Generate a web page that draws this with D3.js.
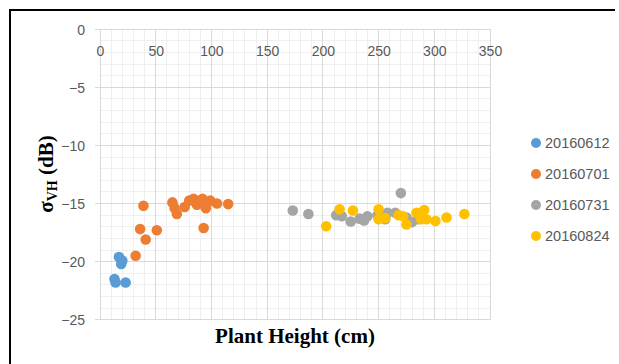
<!DOCTYPE html>
<html><head><meta charset="utf-8">
<script src="https://cdn.jsdelivr.net/npm/d3@7"></script>
<style>body{margin:0;background:#fff}svg{display:block}</style>
</head><body><svg id="c" width="619" height="364"></svg>
<script>
const seriesNames = ["20160612","20160701","20160731","20160824"];
const seriesColors = ["#5B9BD5","#ED7D31","#A5A5A5","#FFC000"];
const s20160612 = [[13,-21.5],[14,-21.8],[17,-19.6],[19,-20.2],[20,-19.9],[23,-21.8]];
const s20160701 = [[32,-19.5],[36,-17.2],[39,-15.2],[41,-18.1],[51,-17.3],[65,-14.9],[67,-15.4],[69,-15.9],[76,-15.3],[80,-14.75],[84,-14.6],[87,-15.1],[89,-14.8],[92,-14.6],[93,-17.1],[95,-15.4],[99,-14.75],[105,-15.0],[115,-15.05]];
const s20160731 = [[173,-15.6],[187,-15.9],[212,-16.0],[217,-16.1],[225,-16.55],[233,-16.3],[237,-16.45],[240,-16.1],[249,-16.0],[256,-16.35],[258,-15.8],[265,-15.8],[270,-14.1],[275,-16.2],[280,-16.6],[285,-16.35]];
const s20160824 = [[203,-16.95],[215,-15.5],[227,-15.6],[250,-15.5],[250,-16.35],[256,-16.25],[268,-16.0],[272,-16.1],[275,-16.8],[284,-15.8],[288,-16.35],[291,-15.55],[293,-16.35],[301,-16.5],[311,-16.2],[327,-15.9]];
const xTicks = [0,50,100,150,200,250,300,350];
const yTicks = [0,-5,-10,-15,-20,-25];
const allSeries = [s20160612,s20160701,s20160731,s20160824];

const svg = d3.select("#c");
const x = d3.scaleLinear().domain([0,350]).range([100,490]);
const y = d3.scaleLinear().domain([-25,0]).range([319.7,29.3]);

// border
svg.append("path").attr("d","M10,364V10H615").attr("fill","none").attr("stroke","#000").attr("stroke-width",2);

// minor grid
const g = svg.append("g");
g.selectAll(".mx").data(d3.range(0,351,10)).enter().append("line")
 .attr("x1",d=>x(d)).attr("x2",d=>x(d)).attr("y1",y(0)).attr("y2",y(-25))
 .attr("stroke","#efefef").attr("stroke-width",1).attr("shape-rendering","crispEdges");
g.selectAll(".my").data(d3.range(-25,1,1)).enter().append("line")
 .attr("x1",x(0)).attr("x2",x(350)).attr("y1",d=>y(d)).attr("y2",d=>y(d))
 .attr("stroke","#efefef").attr("stroke-width",1).attr("shape-rendering","crispEdges");
// major grid
g.selectAll(".Mx").data(xTicks).enter().append("line")
 .attr("x1",d=>x(d)).attr("x2",d=>x(d)).attr("y1",y(0)).attr("y2",y(-25))
 .attr("stroke","#d9d9d9").attr("stroke-width",1).attr("shape-rendering","crispEdges");
g.selectAll(".My").data(yTicks).enter().append("line")
 .attr("x1",x(0)-5).attr("x2",x(350)).attr("y1",d=>y(d)).attr("y2",d=>y(d))
 .attr("stroke","#d9d9d9").attr("stroke-width",1).attr("shape-rendering","crispEdges");

// axes labels
const xAxis = d3.axisTop(x).tickValues(xTicks).tickSize(0).tickPadding(0);
const ax = svg.append("g").attr("transform",`translate(0,${y(0)})`).call(xAxis);
ax.select(".domain").remove();
ax.selectAll("text").attr("y",27).attr("dy",null).attr("fill","#595959")
  .style("font-family","'Liberation Sans',Arial,sans-serif").style("font-size","14px");

const yAxis = d3.axisLeft(y).tickValues(yTicks).tickSize(0).tickPadding(0);
const ay = svg.append("g").attr("transform",`translate(${x(0)},0)`).call(yAxis);
ay.select(".domain").remove();
ay.selectAll("text").attr("x",-15).attr("dy","0.35em").attr("fill","#595959")
  .style("font-family","'Liberation Sans',Arial,sans-serif").style("font-size","14px");

// points
allSeries.forEach((s,i)=>{
  svg.append("g").selectAll("circle").data(s).enter().append("circle")
    .attr("cx",d=>x(d[0])).attr("cy",d=>y(d[1])).attr("r",5.3).attr("fill",seriesColors[i]);
});

// legend
const lg = svg.append("g");
seriesNames.forEach((n,i)=>{
  const cy = 143 + i*31;
  lg.append("circle").attr("cx",536).attr("cy",cy).attr("r",5).attr("fill",seriesColors[i]);
  lg.append("text").attr("x",545).attr("y",cy).attr("dy","0.36em").text(n)
    .attr("fill","#595959").style("font-family","'Liberation Sans',Arial,sans-serif").style("font-size","14.5px");
});

// titles
svg.append("text").attr("x",295).attr("y",343).attr("text-anchor","middle")
  .style("font-family","'Liberation Serif','Times New Roman',serif").style("font-weight","bold").style("font-size","21px")
  .text("Plant Height (cm)");
const yt = svg.append("text").attr("transform","translate(53,174) rotate(-90)").attr("text-anchor","middle")
  .style("font-family","'Liberation Serif','Times New Roman',serif").style("font-weight","bold").style("font-size","21px");
yt.append("tspan").text("σ");
yt.append("tspan").text("VH").style("font-size","14px").attr("dy",4);
yt.append("tspan").text(" (dB)").attr("dy",-4);
</script></body></html>
